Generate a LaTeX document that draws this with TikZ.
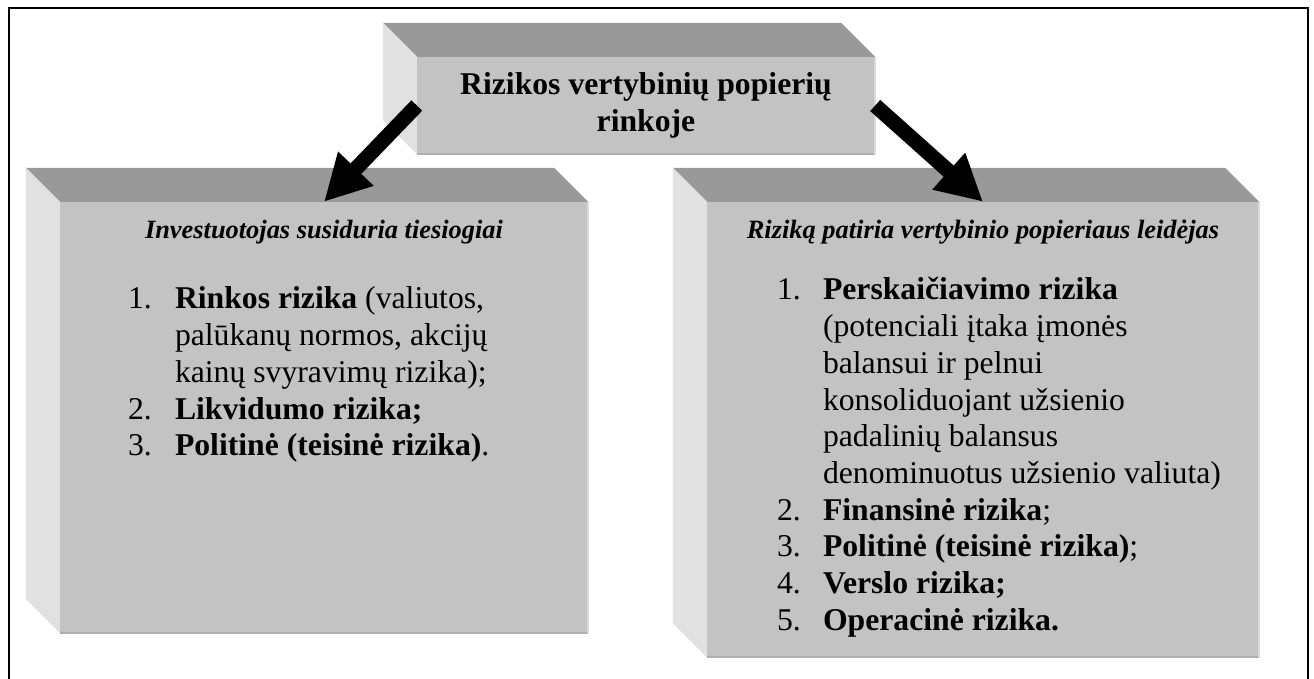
\documentclass[tikz,border=0pt]{standalone}
\usepackage{fontspec}
\setmainfont{Liberation Serif}
\usetikzlibrary{positioning}
\usetikzlibrary{calc}
\usetikzlibrary{arrows.meta}

\definecolor{frontgray}{RGB}{195,195,195}
\definecolor{topgray}{RGB}{153,153,153}
\definecolor{sidegray}{RGB}{225,225,225}
\definecolor{lowedge}{RGB}{176,176,176}
\definecolor{rightedge}{RGB}{218,218,218}

\tikzset{
	face/.style = {fill = frontgray, inner sep = 0pt},
	bigarrow/.style = {line width = 15pt, -{Triangle[length = 46pt, width = 46pt]}},
	caption/.style = {inner sep = 0pt, font = \fontsize{26.4}{30}\selectfont\bfseries\itshape},
	risklist/.style = {inner sep = 0pt, anchor = north west}
}

\begin{document}
\begin{tikzpicture}[x = 1pt, y = -1pt, font = \fontsize{31.7}{36.7}\selectfont]
		\useasboundingbox (0, 0) rectangle (1314, 679);
		\draw [line width = 2pt] (9, 679) |- (1308, 8) -- (1308, 679);

		\node (rizikos) [face, minimum width = 458pt, minimum height = 97pt, align = center, font = \fontsize{31.7}{36.7}\selectfont\bfseries] at (646, 105.5) {Rizikos vertybinių popierių\\rinkoje};
		\node (tiesiogiai) [face, minimum width = 528pt, minimum height = 431pt] at (324, 417.5) {};
		\node (leidejas) [face, minimum width = 552pt, minimum height = 455pt] at (983, 429.5) {};

		% top and side faces of the boxes
		\foreach \bx in {rizikos, tiesiogiai, leidejas} {
			\fill [topgray] (\bx.north west) -- ++(-34, -34) -- ($(\bx.north east) + (-34, -34)$) -- (\bx.north east) -- cycle;
			\fill [sidegray] (\bx.north west) -- ++(-34, -34) -- ($(\bx.south west) + (-34, -34)$) -- (\bx.south west) -- cycle;
			\draw [lowedge, line width = 2pt] (\bx.south west) -- (\bx.south east);
			\draw [rightedge, line width = 1.5pt] (\bx.north east) -- (\bx.south east);
		}

		\node (tiesiogiaicap) [caption, below = 18pt of tiesiogiai.north] {Investuotojas susiduria tiesiogiai};
		\node (tiesiogiailist) [risklist, below right = 81.3pt and 68pt of tiesiogiai.north west] {%
			\begin{tabular}{@{}p{47pt}@{}l@{}}
				1. & \textbf{Rinkos rizika} (valiutos,\\
				   & palūkanų normos, akcijų\\
				   & kainų svyravimų rizika);\\
				2. & \textbf{Likvidumo rizika;}\\
				3. & \textbf{Politinė (teisinė rizika)}.
			\end{tabular}};

		\node (leidejascap) [caption, below = 18pt of leidejas.north] {Riziką patiria vertybinio popieriaus leidėjas};
		\node (leidejaslist) [risklist, below right = 72.3pt and 70pt of leidejas.north west] {%
			\begin{tabular}{@{}p{46pt}@{}l@{}}
				1. & \textbf{Perskaičiavimo rizika}\\
				   & (potenciali įtaka įmonės\\
				   & balansui ir pelnui\\
				   & konsoliduojant užsienio\\
				   & padalinių balansus\\
				   & denominuotus užsienio valiuta)\\
				2. & \textbf{Finansinė rizika};\\
				3. & \textbf{Politinė (teisinė rizika)};\\
				4. & \textbf{Verslo rizika;}\\
				5. & \textbf{Operacinė rizika.}
			\end{tabular}};

		\draw [bigarrow] (rizikos.west) -- (tiesiogiai.north);
		\draw [bigarrow] (rizikos.east) -- (leidejas.north);
	\end{tikzpicture}
\end{document}
